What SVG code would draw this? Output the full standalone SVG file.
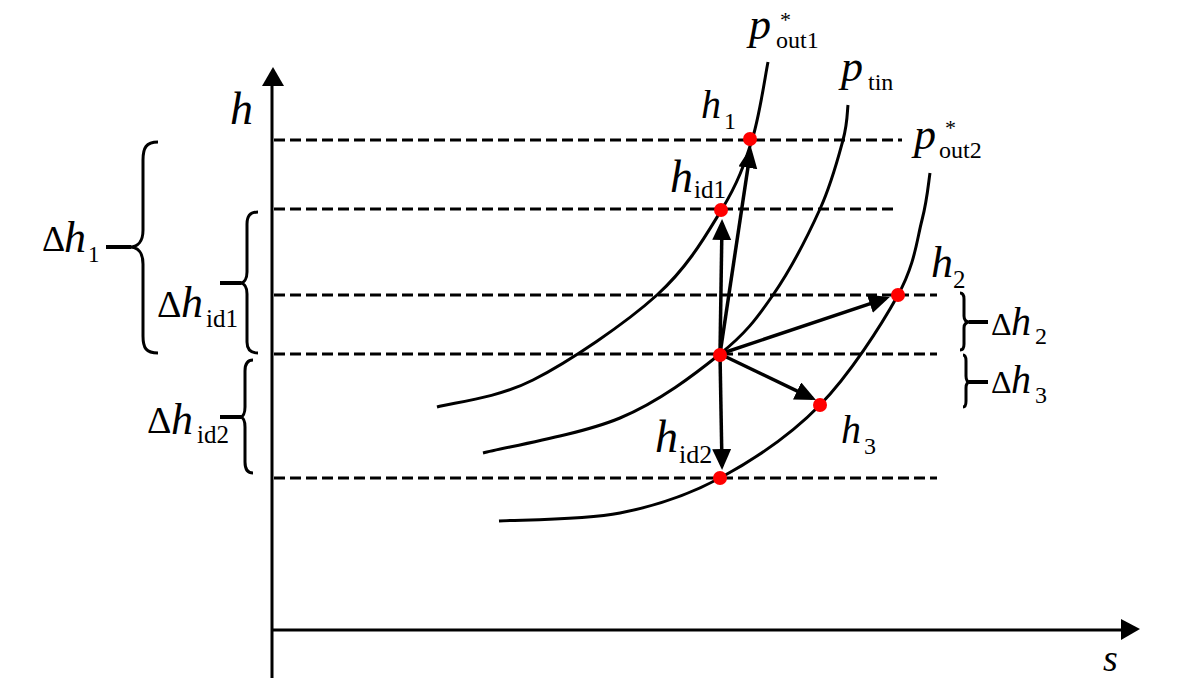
<svg xmlns="http://www.w3.org/2000/svg" width="1181" height="695" viewBox="0 0 1181 695">
<style>
.t{font-family:"Liberation Serif","Times New Roman",serif;fill:#000}
.i{font-style:italic}
.n{font-style:normal}
.dash{stroke:#000;stroke-width:3;stroke-dasharray:11 5;fill:none}
.curve{stroke:#000;stroke-width:3;fill:none}
.brace{stroke:#000;stroke-width:3;fill:none}
.tick{stroke:#000;stroke-width:4}
.axis{stroke:#000;stroke-width:3;fill:none}
.arr{stroke:#000;stroke-width:3.5;fill:none;marker-end:url(#ah)}
.dot{fill:#ff0000}
</style>
<defs>
<marker id="ah" markerUnits="userSpaceOnUse" markerWidth="22" markerHeight="20" refX="17" refY="9.5" orient="auto">
<path d="M0,0 L21,9.5 L0,19 z" fill="#000"/>
</marker>
</defs>
<rect width="1181" height="695" fill="#fff"/>

<g id="axes">
<line class="axis" x1="272" y1="678" x2="272" y2="84"/>
<path d="M273,67 L284,86 L262,86 z" fill="#000"/>
<line class="axis" x1="272" y1="630" x2="1122" y2="630"/>
<path d="M1140,629 L1121,619 L1121,640 z" fill="#000"/>
<text class="t i" x="230" y="124" font-size="46">h</text>
<text class="t i" x="1103" y="671" font-size="38">s</text>
</g>

<g id="levels">
<line class="dash" x1="274" y1="140" x2="902" y2="140"/>
<line class="dash" x1="274" y1="209" x2="897" y2="209"/>
<line class="dash" x1="274" y1="295" x2="937" y2="295"/>
<line class="dash" x1="274" y1="354" x2="937" y2="354"/>
<line class="dash" x1="274" y1="478" x2="937" y2="478"/>
</g>

<g id="curve-pout1">
<path class="curve" d="M437,407 C453,402.5 496.3,398.7 533,380 C569.7,361.3 625.5,323.5 657,295 C688.5,266.5 706.2,234.8 722,209 C737.8,183.2 744.3,164.5 752,140 C759.7,115.5 765.3,75 768,62"/>
<text class="t i" x="749" y="39" font-size="44">p</text>
<text class="t n" x="780" y="27" font-size="22">*</text>
<text class="t n" x="776" y="48" font-size="24">out1</text>
</g>

<g id="curve-ptin">
<path class="curve" d="M483,453 C505.8,447.2 580.5,434.5 620,418 C659.5,401.5 694.5,374.5 720,354 C745.5,333.5 756.3,319.2 773,295 C789.7,270.8 808.3,234.8 820,209 C831.7,183.2 838.3,157.3 843,140 C847.7,122.7 847.2,110.8 848,105"/>
<text class="t i" x="841" y="81" font-size="44">p</text>
<text class="t n" x="868" y="90" font-size="24">tin</text>
</g>

<g id="curve-pout2">
<path class="curve" d="M499,521 C519.2,519.7 583.2,520.2 620,513 C656.8,505.8 686.7,496 720,478 C753.3,460 790.3,435.5 820,405 C849.7,374.5 881,325.8 898,295 C915,264.2 916.7,240.3 922,220 C927.3,199.7 928.7,180.8 930,173"/>
<text class="t i" x="914" y="149" font-size="44">p</text>
<text class="t n" x="945" y="135" font-size="22">*</text>
<text class="t n" x="939" y="158" font-size="24">out2</text>
</g>

<g id="connectors">
<line class="arr" x1="720" y1="354" x2="750.4" y2="151"/>
<line class="arr" x1="720" y1="354" x2="722" y2="223"/>
<line class="arr" x1="720" y1="354" x2="722" y2="466"/>
<line class="arr" x1="720" y1="354" x2="886" y2="298.3"/>
<line class="arr" x1="720" y1="354" x2="812.4" y2="398.3"/>
</g>

<g id="point-h">
<circle class="dot" cx="720" cy="355" r="7"/>
</g>
<g id="point-h1">
<circle class="dot" cx="750" cy="139" r="7"/>
<text class="t i" x="701" y="118" font-size="40">h</text>
<text class="t n" x="724" y="129" font-size="24">1</text>
</g>
<g id="point-hid1">
<circle class="dot" cx="721" cy="210" r="7"/>
<text class="t i" x="670" y="192" font-size="46">h</text>
<text class="t n" x="694" y="198" font-size="25">id1</text>
</g>
<g id="point-h2">
<circle class="dot" cx="898" cy="295" r="7"/>
<text class="t i" x="931" y="277" font-size="44">h</text>
<text class="t n" x="953" y="288" font-size="25">2</text>
</g>
<g id="point-h3">
<circle class="dot" cx="820" cy="405" r="7"/>
<text class="t i" x="841" y="443" font-size="40">h</text>
<text class="t n" x="864" y="454" font-size="24">3</text>
</g>
<g id="point-hid2">
<circle class="dot" cx="720" cy="478" r="7"/>
<text class="t i" x="655" y="452" font-size="46">h</text>
<text class="t n" x="679" y="463" font-size="26">id2</text>
</g>

<g id="brace-dh1">
<path class="brace" d="M158,142 C146,142 143,148 143,160 L143,230 C143,241 138,247 130,247 C138,247 143,253 143,264 L143,336 C143,348 146,353 158,353"/>
<line class="tick" x1="106" y1="247" x2="131" y2="247"/>
<text class="t n" x="42" y="251" font-size="36">Δ</text>
<text class="t i" x="64" y="252" font-size="44">h</text>
<text class="t n" x="88" y="262" font-size="23">1</text>
</g>
<g id="brace-dhid1">
<path class="brace" d="M258,212 C250,212 247,216 247,224 L247,272 C247,279 244,283 240,283 C244,283 247,287 247,294 L247,342 C247,349 250,353 258,353"/>
<line class="tick" x1="220" y1="283" x2="241" y2="283"/>
<text class="t n" x="157" y="317" font-size="38">Δ</text>
<text class="t i" x="181" y="317" font-size="44">h</text>
<text class="t n" x="206" y="327" font-size="25">id1</text>
</g>
<g id="brace-dhid2">
<path class="brace" d="M253,360 C247,360 245,364 245,371 L245,407 C245,413 243,417 240,417 C243,417 245,421 245,427 L245,462 C245,469 247,473 253,473"/>
<line class="tick" x1="220" y1="417" x2="241" y2="417"/>
<text class="t n" x="147" y="433" font-size="38">Δ</text>
<text class="t i" x="171" y="434" font-size="44">h</text>
<text class="t n" x="197" y="443" font-size="25">id2</text>
</g>
<g id="brace-dh2">
<path class="brace" d="M960,293 C963,293 964,295 964,299 L964,316 C964,320 966,322 970,322 C966,322 964,324 964,328 L964,344 C964,348 963,350 960,350"/>
<line class="tick" x1="969" y1="322" x2="988" y2="322"/>
<text class="t n" x="991" y="335" font-size="32">Δ</text>
<text class="t i" x="1011" y="335" font-size="40">h</text>
<text class="t n" x="1035" y="344" font-size="24">2</text>
</g>
<g id="brace-dh3">
<path class="brace" d="M963,355 C965,355 966,357 966,361 L966,376 C966,380 967,382 970,382 C967,382 966,384 966,388 L966,401 C966,405 965,407 963,407"/>
<line class="tick" x1="969" y1="382" x2="988" y2="382"/>
<text class="t n" x="991" y="393" font-size="32">Δ</text>
<text class="t i" x="1011" y="393" font-size="40">h</text>
<text class="t n" x="1035" y="403" font-size="24">3</text>
</g>
</svg>
